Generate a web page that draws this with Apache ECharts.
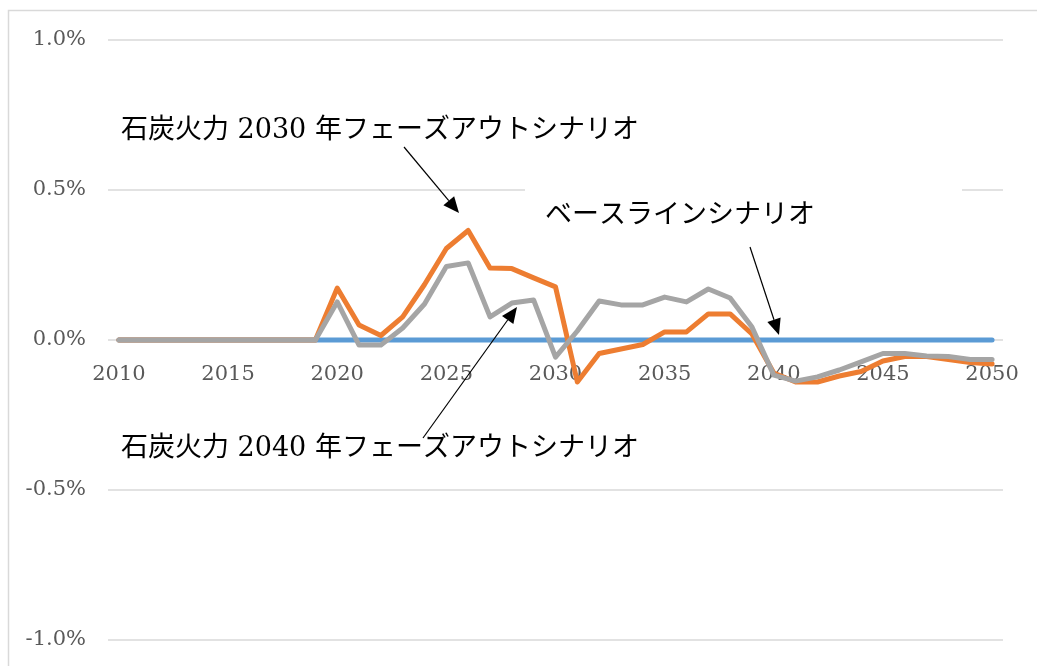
<!DOCTYPE html>
<html>
<head>
<meta charset="utf-8">
<script src="https://cdn.jsdelivr.net/npm/echarts@6/dist/echarts.min.js"></script>
<style>html,body{margin:0;padding:0;background:#fff;}#c{width:1037px;height:666px;}</style>
</head>
<body>
<div id="c"></div>
<script>
// ---- data ----
const years = [];
for (let y = 2010; y <= 2050; y++) years.push(String(y));

const yTicks = [-1.0, -0.5, 0.0, 0.5, 1.0];

const baseline = [
  0,0,0,0,0,0,0,0,0,0,
  0,0,0,0,0,0,0,0,0,0,
  0,0,0,0,0,0,0,0,0,0,
  0,0,0,0,0,0,0,0,0,0,
  0
];
const phaseout2030 = [
  0,0,0,0,0,0,0,0,0,0,
  0.173,0.05,0.015,0.077,0.185,0.305,0.365,0.24,0.238,0.207,
  0.177,-0.14,-0.045,-0.03,-0.015,0.027,0.027,0.087,0.087,0.02,
  -0.11,-0.14,-0.14,-0.12,-0.105,-0.07,-0.055,-0.055,-0.065,-0.075,
  -0.08
];
const phaseout2040 = [
  0,0,0,0,0,0,0,0,0,0,
  0.127,-0.017,-0.017,0.04,0.12,0.245,0.257,0.077,0.123,0.133,
  -0.057,0.03,0.13,0.117,0.117,0.143,0.127,0.17,0.14,0.043,
  -0.117,-0.137,-0.123,-0.1,-0.073,-0.045,-0.045,-0.053,-0.055,-0.065,
  -0.065
];

const label2030 = '石炭火力 2030 年フェーズアウトシナリオ';
const labelBase = 'ベースラインシナリオ';
const label2040 = '石炭火力 2040 年フェーズアウトシナリオ';

// ---- chart ----
const chart = echarts.init(document.getElementById('c'), null, {renderer: 'canvas'});

function arrow(x1, y1, x2, y2) {
  const dx = x2 - x1, dy = y2 - y1;
  const len = Math.sqrt(dx*dx + dy*dy);
  const ux = dx/len, uy = dy/len;
  const hl = 16, hw = 7;
  const bx = x2 - ux*hl, by = y2 - uy*hl;
  const px = -uy, py = ux;
  return [
    {type: 'line', z: 100, shape: {x1: x1, y1: y1, x2: bx, y2: by},
     style: {stroke: '#000', lineWidth: 1.2}},
    {type: 'polygon', z: 100, shape: {points: [[x2, y2], [bx + px*hw, by + py*hw], [bx - px*hw, by - py*hw]]},
     style: {fill: '#000'}}
  ];
}

const fontSerif = "'DejaVu Serif', 'Noto Sans CJK JP', serif";

const option = {
  animation: false,
  backgroundColor: '#fff',
  grid: {left: 108, right: 34, top: 40, bottom: 26, containLabel: false, outerBoundsMode: 'none'},
  xAxis: {
    type: 'category',
    data: years,
    boundaryGap: true,
    position: 'bottom',
    offset: -300,
    axisLine: {show: false, onZero: false},
    axisTick: {show: false},
    axisLabel: {
      interval: 4,
      margin: 24,
      color: '#595959',
      fontFamily: fontSerif,
      fontSize: 21
    },
    splitLine: {show: false}
  },
  yAxis: {
    type: 'value',
    min: -1.0,
    max: 1.0,
    interval: 0.5,
    axisLine: {show: false},
    axisTick: {show: false},
    axisLabel: {
      margin: 22,
      color: '#595959',
      fontFamily: fontSerif,
      fontSize: 21,
      formatter: v => v.toFixed(1) + '%'
    },
    splitLine: {lineStyle: {color: '#d9d9d9', width: 1.5}}
  },
  series: [
    {name: 'ベースライン', type: 'line', data: baseline, showSymbol: false, z: 3,
     lineStyle: {color: '#5B9BD5', width: 5, cap: 'round'}},
    {name: '2030', type: 'line', data: phaseout2030, showSymbol: false, z: 4,
     lineStyle: {color: '#ED7D31', width: 5, cap: 'round', join: 'round'}},
    {name: '2040', type: 'line', data: phaseout2040, showSymbol: false, z: 5,
     lineStyle: {color: '#A5A5A5', width: 5, cap: 'round', join: 'round'}}
  ],
  graphic: [
    {type: 'rect', z: 0, silent: true, shape: {x: 8.5, y: 10.5, width: 1200, height: 800},
     style: {fill: 'none', stroke: '#d9d9d9', lineWidth: 1.5}},
    {type: 'rect', z: 50, silent: true, shape: {x: 525, y: 180, width: 437, height: 55},
     style: {fill: '#fff'}},
    {type: 'text', z: 100, left: 121, top: 117,
     style: {text: label2030, fill: '#000', font: "27px " + fontSerif}},
    {type: 'text', z: 100, left: 545, top: 202,
     style: {text: labelBase, fill: '#000', font: "27px " + fontSerif}},
    {type: 'text', z: 100, left: 121, top: 435,
     style: {text: label2040, fill: '#000', font: "27px " + fontSerif}},
    ...arrow(404, 147, 459, 213),
    ...arrow(750, 247, 779, 335),
    ...arrow(423, 438, 517, 307)
  ]
};
chart.setOption(option);
</script>
</body>
</html>
